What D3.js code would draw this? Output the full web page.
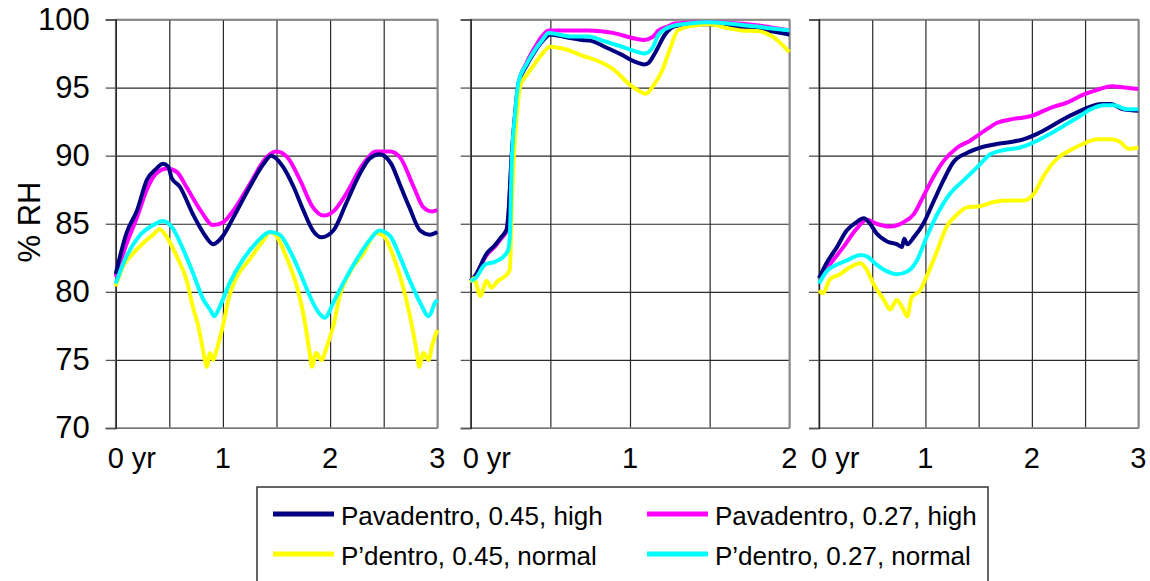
<html>
<head>
  <meta charset="UTF-8">
  <title>% RH - three panels</title>
  <script src="https://d3js.org/d3.v7.min.js"></script>
  <style>
    body { margin: 0; background: white; }
    svg { font-family: "Liberation Sans", Arial, sans-serif; }
  </style>
</head>
<body>
<svg></svg>
<script>
// ---- data: [years, %RH] ----
const yTicks = [70, 75, 80, 85, 90, 95, 100];
const seriesNames = ["Pavadentro, 0.45, high", "Pavadentro, 0.27, high",
                     "P\u2019dentro, 0.45, normal", "P\u2019dentro, 0.27, normal"];
const seriesColors = ["#000080", "#ff00ff", "#ffff00", "#00ffff"];

const p1Labels = ["0 yr", "1", "2", "3"];
const p2Labels = ["0 yr", "1", "2"];
const p3Labels = ["0 yr", "1", "2", "3"];

const p1Navy = [[0,81.3],[0.1,84.3],[0.2,86.0],[0.29,88.2],[0.38,89.05],[0.44,89.4],[0.49,89.2],[0.52,88.4],
  [0.6,87.7],[0.72,85.7],[0.82,84.3],[0.91,83.5],[0.99,84.0],[1.1,85.5],[1.25,87.7],[1.38,89.4],[1.45,90.0],
  [1.56,89.2],[1.66,87.7],[1.75,86.0],[1.84,84.5],[1.92,84.0],[2.03,84.5],[2.15,86.5],[2.28,88.7],[2.37,89.8],
  [2.46,90.1],[2.57,89.4],[2.65,87.9],[2.74,86.2],[2.84,84.5],[2.93,84.2],[3.0,84.4]];
const p1Magenta = [[0,81.1],[0.1,83.5],[0.2,85.5],[0.29,87.5],[0.38,88.7],[0.48,89.05],[0.57,88.8],[0.66,87.7],
  [0.79,86.0],[0.91,84.9],[1.0,85.1],[1.1,86.0],[1.25,87.9],[1.41,89.9],[1.5,90.3],[1.6,89.9],[1.72,88.2],
  [1.84,86.2],[1.94,85.6],[2.03,85.9],[2.15,87.2],[2.31,89.4],[2.43,90.3],[2.56,90.3],[2.65,89.9],[2.78,87.7],
  [2.87,86.2],[2.95,85.9],[3.0,86.0]];
const p1Yellow = [[0,80.4],[0.07,81.9],[0.16,82.8],[0.26,83.6],[0.35,84.2],[0.41,84.6],[0.47,84.1],[0.57,82.6],
  [0.66,80.9],[0.72,78.9],[0.77,77.5],[0.82,75.5],[0.85,74.5],[0.88,75.5],[0.91,75.0],[0.94,75.7],[1.0,77.5],
  [1.06,79.7],[1.13,81.1],[1.25,82.4],[1.38,83.8],[1.44,84.4],[1.5,84.1],[1.59,82.6],[1.69,80.4],[1.75,78.4],
  [1.81,75.5],[1.83,74.5],[1.87,75.5],[1.92,75.0],[1.97,76.0],[2.03,77.5],[2.09,79.7],[2.18,81.4],[2.31,82.8],
  [2.43,84.3],[2.5,84.1],[2.59,82.6],[2.68,80.4],[2.74,78.4],[2.81,75.5],[2.83,74.5],[2.87,75.5],[2.92,75.0],
  [2.95,76.0],[3.0,77.2]];
const p1Cyan = [[0,80.6],[0.1,82.6],[0.22,84.1],[0.35,84.9],[0.44,85.2],[0.53,84.7],[0.63,83.1],[0.72,81.4],
  [0.82,79.4],[0.88,78.7],[0.92,78.2],[0.97,78.9],[1.06,80.6],[1.19,82.4],[1.31,83.6],[1.44,84.4],[1.53,84.2],
  [1.62,83.1],[1.72,81.4],[1.81,79.7],[1.9,78.4],[1.95,78.1],[2.03,79.2],[2.12,80.6],[2.25,82.4],[2.37,83.8],
  [2.46,84.5],[2.56,84.1],[2.65,82.6],[2.74,80.9],[2.84,79.2],[2.92,78.2],[2.98,79.2],[3.0,79.4]];

const p2Navy = [[0,80.8],[0.03,81.2],[0.1,82.8],[0.15,83.4],[0.19,84.0],[0.226,84.6],[0.236,85.6],[0.257,90.0],
  [0.278,93.0],[0.3,95.3],[0.35,96.6],[0.4,97.6],[0.45,98.4],[0.5,98.9],[0.6,98.7],[0.7,98.5],[0.75,98.45],
  [0.84,98.0],[0.95,97.4],[1.03,96.9],[1.09,96.7],[1.115,96.8],[1.16,97.6],[1.22,98.9],[1.28,99.5],[1.37,99.65],
  [1.49,99.65],[1.62,99.5],[1.78,99.3],[2.0,98.9]];
const p2Magenta = [[0,80.8],[0.03,81.2],[0.1,82.7],[0.15,83.3],[0.19,83.9],[0.226,84.5],[0.236,85.5],[0.257,89.8],
  [0.278,92.9],[0.3,95.3],[0.35,96.8],[0.4,97.9],[0.45,98.8],[0.49,99.2],[0.74,99.2],[0.9,99.0],[1.03,98.6],
  [1.09,98.5],[1.14,98.7],[1.18,99.2],[1.24,99.5],[1.28,99.7],[1.5,99.8],[1.78,99.6],[2.0,99.2]];
const p2Yellow = [[0,80.7],[0.02,81.0],[0.06,79.7],[0.1,80.8],[0.13,80.3],[0.17,80.8],[0.22,81.2],[0.245,81.6],
  [0.26,87.0],[0.27,89.8],[0.29,93.0],[0.31,95.1],[0.35,95.9],[0.4,96.7],[0.45,97.5],[0.5,98.0],[0.6,97.8],
  [0.7,97.35],[0.8,96.95],[0.9,96.3],[1.0,95.2],[1.05,94.8],[1.1,94.55],[1.15,95.2],[1.2,96.2],[1.25,97.8],
  [1.3,99.2],[1.4,99.55],[1.5,99.65],[1.6,99.4],[1.7,99.2],[1.8,99.15],[1.9,98.7],[2.0,97.6]];
const p2Cyan = [[0,80.8],[0.03,81.0],[0.09,82.0],[0.15,82.2],[0.215,82.7],[0.236,83.1],[0.247,84.4],[0.257,89.3],
  [0.278,93.0],[0.3,95.4],[0.35,96.7],[0.4,97.7],[0.45,98.5],[0.49,99.0],[0.63,98.75],[0.74,98.75],[0.84,98.4],
  [0.95,98.0],[1.05,97.6],[1.09,97.5],[1.14,97.9],[1.18,98.9],[1.26,99.5],[1.37,99.7],[1.49,99.8],[1.78,99.5],
  [2.0,99.2]];

const p3Navy = [[0,81.0],[0.07,82.1],[0.17,83.3],[0.26,84.5],[0.35,85.1],[0.42,85.4],[0.48,85.0],[0.54,84.3],
  [0.64,83.7],[0.73,83.5],[0.78,83.3],[0.8,83.9],[0.83,83.5],[0.89,84.0],[0.98,85.0],[1.08,86.7],[1.17,88.2],
  [1.26,89.5],[1.39,90.2],[1.52,90.6],[1.67,90.85],[1.8,91.0],[1.92,91.2],[2.05,91.6],[2.17,92.1],[2.3,92.7],
  [2.43,93.2],[2.55,93.6],[2.65,93.8],[2.74,93.8],[2.86,93.4],[3.0,93.3]];
const p3Magenta = [[0,81.0],[0.1,82.0],[0.23,83.3],[0.35,84.6],[0.45,85.3],[0.54,85.0],[0.67,84.8],[0.79,85.1],
  [0.89,85.7],[0.98,87.0],[1.08,88.5],[1.17,89.6],[1.3,90.6],[1.42,91.1],[1.55,91.8],[1.67,92.4],[1.83,92.7],
  [1.99,92.9],[2.17,93.5],[2.33,93.9],[2.49,94.5],[2.6,94.8],[2.75,95.1],[2.87,95.0],[3.0,94.9]];
const p3Yellow = [[0,80.1],[0.04,79.9],[0.1,80.9],[0.2,81.3],[0.29,81.8],[0.39,82.1],[0.45,81.6],[0.51,80.6],
  [0.61,79.4],[0.67,78.7],[0.73,79.4],[0.78,78.9],[0.83,78.2],[0.87,79.6],[0.95,80.1],[1.01,81.1],[1.11,83.0],
  [1.2,84.8],[1.3,85.7],[1.39,86.2],[1.52,86.3],[1.64,86.6],[1.8,86.7],[1.92,86.7],[2.02,87.2],[2.11,88.5],
  [2.24,89.8],[2.36,90.4],[2.52,91.0],[2.61,91.2],[2.74,91.2],[2.83,91.0],[2.91,90.5],[3.0,90.6]];
const p3Cyan = [[0,80.6],[0.07,81.5],[0.17,82.0],[0.26,82.3],[0.39,82.7],[0.45,82.6],[0.54,82.0],[0.64,81.5],
  [0.73,81.3],[0.83,81.5],[0.92,82.3],[1.01,84.0],[1.11,85.7],[1.23,87.2],[1.36,88.2],[1.48,89.1],[1.61,90.1],
  [1.73,90.4],[1.89,90.6],[2.05,91.1],[2.17,91.6],[2.3,92.2],[2.43,92.8],[2.55,93.4],[2.68,93.7],[2.77,93.7],
  [2.9,93.4],[3.0,93.4]];

// ---- layout ----
const width = 1150, height = 581;
const panels = [
  { x0: 115.7, x1: 437.3, years: 3, labels: p1Labels, data: [p1Navy, p1Magenta, p1Yellow, p1Cyan] },
  { x0: 470.7, x1: 789.3, years: 2, labels: p2Labels, data: [p2Navy, p2Magenta, p2Yellow, p2Cyan] },
  { x0: 819.0, x1: 1138.3, years: 3, labels: p3Labels, data: [p3Navy, p3Magenta, p3Yellow, p3Cyan] }
];
const drawOrder = [1, 0, 2, 3];

let svg = d3.select("svg").attr("width", width).attr("height", height);

const yScale = d3.scaleLinear().domain([70, 100]).range([428, 19.5]);
const plotH = yScale(70) - yScale(100);

panels.forEach((p, i) => {
  const xScale = d3.scaleLinear().domain([0, p.years]).range([p.x0, p.x1]);
  const plotW = p.x1 - p.x0;

  // grid lines
  svg.append("g")
     .attr("transform", `translate(0, ${yScale(70)})`)
     .call(d3.axisBottom(xScale).tickValues(d3.range(0, p.years + 0.01, 0.5)).tickFormat("").tickSize(-plotH))
     .call(g => g.select(".domain").remove())
     .selectAll("line").attr("stroke", "#2a2a2a").attr("stroke-width", 1.2);

  svg.append("g")
     .attr("transform", `translate(${p.x0}, 0)`)
     .call(d3.axisLeft(yScale).tickValues(yTicks).tickFormat("").tickSize(-plotW))
     .call(g => g.select(".domain").remove())
     .selectAll("line").attr("stroke", "#2a2a2a").attr("stroke-width", 1.2);

  // frame
  svg.append("rect")
     .attr("x", p.x0).attr("y", yScale(100))
     .attr("width", plotW).attr("height", plotH)
     .attr("fill", "none").attr("stroke", "#8a8a8a").attr("stroke-width", 1.6);

  // left axis with small ticks (labels on the first panel only)
  let leftAxis = d3.axisLeft(yScale).tickValues(yTicks).tickSize(10).tickPadding(16)
                   .tickFormat(i === 0 ? d3.format("d") : "");
  let ag = svg.append("g").attr("transform", `translate(${p.x0}, 0)`).call(leftAxis);
  ag.select(".domain").attr("stroke", "#222").attr("stroke-width", 1.3);
  ag.selectAll(".tick line").attr("stroke", "#555").attr("stroke-width", 1.3);
  ag.selectAll("text").attr("font-size", 31).attr("fill", "#000")
    .attr("font-family", "Liberation Sans, Arial, sans-serif");

  // series
  const line = d3.line().x(d => xScale(d[0])).y(d => yScale(d[1])).curve(d3.curveMonotoneX);
  drawOrder.forEach(k => {
    svg.append("path")
       .datum(p.data[k])
       .attr("d", line)
       .attr("fill", "none")
       .attr("stroke", seriesColors[k])
       .attr("stroke-width", 4)
       .attr("stroke-linejoin", "round");
  });

  // x labels
  p.labels.forEach((lab, j) => {
    svg.append("text")
       .attr("x", j === 0 ? xScale(0) - 8 : xScale(j))
       .attr("y", 468)
       .attr("text-anchor", j === 0 ? "start" : "middle")
       .attr("font-size", 29)
       .text(lab);
  });
});

// y title
svg.append("text")
   .attr("transform", "translate(40, 222) rotate(-90)")
   .attr("text-anchor", "middle")
   .attr("font-size", 31)
   .text("% RH");

// legend
svg.append("rect")
   .attr("x", 257).attr("y", 487).attr("width", 731).attr("height", 120)
   .attr("fill", "white").attr("stroke", "#333").attr("stroke-width", 1.5);

const legendCols = [273, 647];
const legendRows = [514, 554];
seriesNames.forEach((name, k) => {
  const lx = legendCols[k % 2], ly = legendRows[Math.floor(k / 2)];
  svg.append("line")
     .attr("x1", lx).attr("x2", lx + 61).attr("y1", ly).attr("y2", ly)
     .attr("stroke", seriesColors[k]).attr("stroke-width", 5);
  svg.append("text")
     .attr("x", lx + 68).attr("y", ly + 11)
     .attr("font-size", 26)
     .text(name);
});
</script>
</body>
</html>
